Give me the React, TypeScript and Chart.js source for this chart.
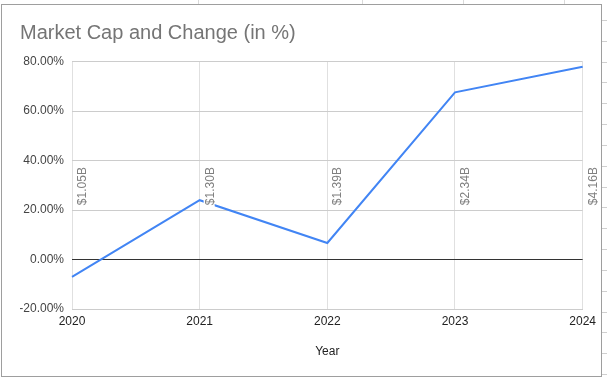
import { useEffect, useRef } from 'react';
import { Chart, registerables } from 'chart.js';

Chart.register(...registerables);

// ---- data ----
const years = ['2020', '2021', '2022', '2023', '2024'];
const changePct = [-7.0, 24.0, 6.7, 67.6, 78.0];
const marketCaps = ['$1.05B', '$1.30B', '$1.39B', '$2.34B', '$4.16B'];
const yMin = -20;
const yMax = 80;
const yStep = 20;
const annotationLevel = 22;

const FONT = "Arial, 'Liberation Sans', sans-serif";

// spreadsheet backdrop (decoration outside the chart box)
const sheetCols = [198, 362, 463, 564];
const sheetRows = Array.from({ length: 18 }, (_, k) => 20 + k * 20.83);

const capLabels = {
  id: 'capLabels',
  afterDatasetsDraw(chart: any) {
    const { ctx, scales } = chart;
    const x = scales.x;
    const y = scales.y;
    ctx.save();
    ctx.font = `12px ${FONT}`;
    marketCaps.forEach((label, i) => {
      const px = x.getPixelForValue(i) + 14;
      const py = y.getPixelForValue(annotationLevel);
      const w = ctx.measureText(label).width;
      ctx.save();
      ctx.translate(px, py);
      ctx.rotate(-Math.PI / 2);
      ctx.fillStyle = '#ffffff';
      ctx.fillRect(-2, -10, w + 4, 11);
      ctx.fillStyle = '#808080';
      ctx.textBaseline = 'alphabetic';
      ctx.textAlign = 'left';
      ctx.fillText(label, 0, 0);
      ctx.restore();
    });
    ctx.restore();
  },
};

export default function App() {
  const ref = useRef<HTMLCanvasElement>(null);

  useEffect(() => {
    const chart = new Chart(ref.current!, {
      type: 'line',
      data: {
        labels: years,
        datasets: [
          {
            label: 'Change',
            data: changePct,
            borderColor: '#4285f4',
            backgroundColor: '#4285f4',
            borderWidth: 2,
            pointRadius: 0,
            tension: 0,
            fill: false,
          },
        ],
      },
      options: {
        responsive: false,
        animation: false,
        devicePixelRatio: 1,
        layout: { padding: { left: 18, right: 18, top: 0, bottom: 0 } },
        plugins: {
          legend: { display: false },
          tooltip: { enabled: false },
          title: {
            display: true,
            text: 'Market Cap and Change (in %)',
            align: 'start',
            color: '#757575',
            font: { size: 20, family: FONT, weight: 'normal' },
            padding: { top: 16, bottom: 16.7 },
          },
        },
        scales: {
          x: {
            grid: { color: '#e0e0e0', drawTicks: false },
            border: { display: true, color: '#cccccc' },
            ticks: {
              color: '#222222',
              font: { size: 12, family: FONT },
              padding: 5,
              maxRotation: 0,
            },
            title: {
              display: true,
              text: 'Year',
              color: '#222222',
              font: { size: 12, family: FONT },
              padding: { top: 0, bottom: 17 },
            },
            afterFit(scale: any) {
              scale.height = 67;
            },
          },
          y: {
            min: yMin,
            max: yMax,
            grid: {
              drawTicks: false,
              color: (c: any) => (c.tick && c.tick.value === 0 ? '#333333' : '#cccccc'),
            },
            border: { display: false },
            ticks: {
              stepSize: yStep,
              color: '#444444',
              font: { size: 12, family: FONT },
              padding: 8,
              callback: (v: any) => Number(v).toFixed(2) + '%',
            },
            afterFit(scale: any) {
              scale.width = 52;
            },
          },
        },
      },
      plugins: [capLabels],
    } as any);
    return () => chart.destroy();
  }, []);

  return (
    <div
      style={{
        position: 'fixed',
        left: 0,
        top: 0,
        width: 607,
        height: 377,
        background: '#ffffff',
        overflow: 'hidden',
      }}
    >
      {sheetCols.map((x) => (
        <div
          key={'c' + x}
          style={{ position: 'absolute', left: x, top: 0, width: 1, height: 5, background: '#dadada' }}
        />
      ))}
      {sheetRows.map((y) => (
        <div
          key={'r' + y}
          style={{ position: 'absolute', left: 602, top: Math.round(y), width: 5, height: 1, background: '#cfcfcf' }}
        />
      ))}
      <div
        style={{
          position: 'absolute',
          left: 1,
          top: 4,
          width: 601,
          height: 373,
          boxSizing: 'border-box',
          border: '1px solid #9e9e9e',
          background: '#ffffff',
        }}
      >
        <canvas ref={ref} width={599} height={371} style={{ display: 'block', width: 599, height: 371 }} />
      </div>
    </div>
  );
}
